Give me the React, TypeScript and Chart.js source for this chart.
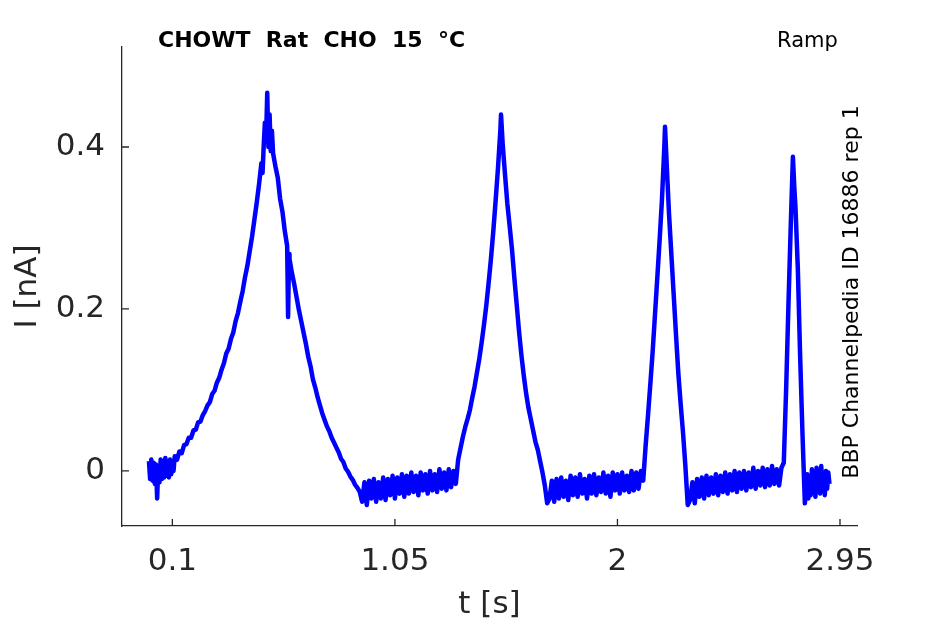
import React, { useEffect, useRef } from "react";
import { Chart, registerables } from "chart.js";

Chart.register(...registerables);

const baseline0: [number, number][] = [
  [0.0, 0.012], [0.005, -0.01], [0.01, 0.014], [0.015, -0.012], [0.02, 0.01],
  [0.025, -0.016], [0.03, 0.008], [0.035, -0.034], [0.04, 0.006], [0.045, -0.014],
  [0.05, 0.014], [0.055, -0.01], [0.06, 0.012], [0.065, -0.008], [0.07, 0.016],
  [0.075, -0.006], [0.08, 0.012], [0.085, -0.008], [0.09, 0.014], [0.095, -0.004],
  [0.1, 0.012], [0.105, 0.0], [0.11, 0.018],
];

const peak1: [number, number][] = [
  [0.12, 0.014], [0.13, 0.024], [0.14, 0.022], [0.15, 0.032], [0.16, 0.033],
  [0.17, 0.041], [0.18, 0.041], [0.19, 0.05], [0.2, 0.051], [0.21, 0.06],
  [0.22, 0.061], [0.23, 0.069], [0.24, 0.074], [0.25, 0.081], [0.26, 0.085],
  [0.27, 0.095], [0.28, 0.099], [0.29, 0.109], [0.3, 0.115], [0.31, 0.125],
  [0.32, 0.133], [0.33, 0.145], [0.34, 0.151], [0.35, 0.163], [0.36, 0.171],
  [0.37, 0.185], [0.38, 0.195], [0.39, 0.209], [0.4, 0.222], [0.41, 0.239],
  [0.42, 0.253], [0.43, 0.271], [0.44, 0.289], [0.45, 0.31], [0.46, 0.331],
  [0.47, 0.354], [0.48, 0.38], [0.485, 0.368], [0.49, 0.402], [0.495, 0.43],
  [0.5, 0.41], [0.505, 0.467], [0.51, 0.4], [0.515, 0.44], [0.52, 0.395],
  [0.525, 0.42], [0.53, 0.392], [0.54, 0.376], [0.55, 0.362], [0.56, 0.336],
  [0.57, 0.32], [0.58, 0.296], [0.59, 0.278], [0.594, 0.19], [0.598, 0.268],
  [0.6, 0.262], [0.61, 0.245], [0.62, 0.231], [0.63, 0.215], [0.64, 0.199],
  [0.65, 0.185], [0.66, 0.171], [0.67, 0.157], [0.68, 0.141], [0.69, 0.129],
  [0.7, 0.113], [0.71, 0.103], [0.72, 0.091], [0.73, 0.081], [0.74, 0.071],
  [0.75, 0.063], [0.76, 0.055], [0.77, 0.049], [0.78, 0.041], [0.79, 0.035],
  [0.8, 0.029], [0.81, 0.023], [0.82, 0.015], [0.83, 0.011], [0.84, 0.003],
  [0.85, -0.001], [0.86, -0.007], [0.87, -0.011], [0.88, -0.017], [0.89, -0.021],
  [0.9, -0.026],
];

const baseline1: [number, number][] = [
  [0.91, -0.038], [0.92, -0.014], [0.93, -0.042], [0.94, -0.012], [0.95, -0.034],
  [0.96, -0.01], [0.97, -0.038], [0.98, -0.014], [0.99, -0.034], [1.0, -0.008],
  [1.01, -0.036], [1.02, -0.01], [1.03, -0.03], [1.04, -0.006], [1.05, -0.034],
  [1.06, -0.008], [1.07, -0.028], [1.08, -0.004], [1.09, -0.032], [1.1, -0.006],
  [1.11, -0.028], [1.12, -0.002], [1.13, -0.026], [1.14, -0.006], [1.15, -0.03],
  [1.16, -0.002], [1.17, -0.024], [1.18, -0.004], [1.19, -0.028], [1.2, 0.0],
  [1.21, -0.024], [1.22, -0.004], [1.23, -0.026], [1.24, 0.002], [1.25, -0.022],
  [1.26, -0.002], [1.27, -0.024], [1.28, 0.002], [1.29, -0.02], [1.3, 0.0],
  [1.31, -0.016],
];

const peak2: [number, number][] = [
  [1.32, 0.014], [1.33, 0.028], [1.34, 0.042], [1.35, 0.054], [1.36, 0.064],
  [1.37, 0.075], [1.38, 0.09], [1.39, 0.104], [1.4, 0.121], [1.41, 0.138],
  [1.42, 0.158], [1.43, 0.18], [1.44, 0.204], [1.45, 0.232], [1.46, 0.262],
  [1.47, 0.296], [1.48, 0.334], [1.49, 0.374], [1.5, 0.42], [1.503, 0.44],
  [1.51, 0.404], [1.52, 0.366], [1.53, 0.33], [1.54, 0.302], [1.55, 0.273],
  [1.56, 0.238], [1.57, 0.205], [1.58, 0.172], [1.59, 0.143], [1.6, 0.118],
  [1.61, 0.096], [1.62, 0.078], [1.63, 0.064], [1.64, 0.05], [1.65, 0.036],
  [1.66, 0.026], [1.67, 0.012], [1.68, -0.002], [1.69, -0.018], [1.7, -0.04],
];

const baseline2: [number, number][] = [
  [1.71, -0.034], [1.72, -0.012], [1.73, -0.038], [1.74, -0.01], [1.75, -0.034],
  [1.76, -0.008], [1.77, -0.032], [1.78, -0.012], [1.79, -0.036], [1.8, -0.006],
  [1.81, -0.03], [1.82, -0.008], [1.83, -0.032], [1.84, -0.004], [1.85, -0.028],
  [1.86, -0.01], [1.87, -0.034], [1.88, -0.006], [1.89, -0.028], [1.9, -0.004],
  [1.91, -0.03], [1.92, -0.008], [1.93, -0.026], [1.94, -0.002], [1.95, -0.028],
  [1.96, -0.006], [1.97, -0.032], [1.98, -0.002], [1.99, -0.024], [2.0, -0.004],
  [2.01, -0.028], [2.02, -0.002], [2.03, -0.024], [2.04, -0.006], [2.05, -0.026],
  [2.06, 0.0], [2.07, -0.024], [2.08, -0.002], [2.09, -0.022], [2.1, 0.0],
];

const peak3: [number, number][] = [
  [2.11, -0.012], [2.12, 0.03], [2.13, 0.067], [2.14, 0.106], [2.15, 0.146],
  [2.16, 0.192], [2.17, 0.238], [2.18, 0.285], [2.19, 0.335], [2.2, 0.4],
  [2.203, 0.425], [2.21, 0.38], [2.22, 0.318], [2.23, 0.268], [2.24, 0.218],
  [2.25, 0.168], [2.26, 0.12], [2.27, 0.082], [2.28, 0.047], [2.29, 0.006],
  [2.3, -0.042],
];

const baseline3: [number, number][] = [
  [2.31, -0.036], [2.32, -0.014], [2.33, -0.04], [2.34, -0.01], [2.35, -0.032],
  [2.36, -0.008], [2.37, -0.034], [2.38, -0.006], [2.39, -0.03], [2.4, -0.008],
  [2.41, -0.028], [2.42, -0.004], [2.43, -0.03], [2.44, -0.006], [2.45, -0.026],
  [2.46, -0.002], [2.47, -0.028], [2.48, -0.004], [2.49, -0.024], [2.5, 0.0],
  [2.51, -0.026], [2.52, -0.002], [2.53, -0.022], [2.54, 0.0], [2.55, -0.024],
  [2.56, -0.002], [2.57, -0.02], [2.58, 0.004], [2.59, -0.022], [2.6, 0.0],
  [2.61, -0.018], [2.62, 0.004], [2.63, -0.02], [2.64, 0.002], [2.65, -0.018],
  [2.66, 0.006], [2.67, -0.016], [2.68, 0.002], [2.69, -0.018], [2.7, 0.004],
];

const peak4: [number, number][] = [
  [2.71, 0.01], [2.72, 0.1], [2.73, 0.206], [2.74, 0.305], [2.749, 0.388],
  [2.755, 0.35], [2.76, 0.325], [2.77, 0.25], [2.78, 0.14], [2.79, 0.045],
  [2.8, -0.04],
];

const baseline4: [number, number][] = [
  [2.805, -0.024], [2.81, -0.004], [2.815, -0.034], [2.82, -0.008], [2.825, -0.03],
  [2.83, 0.002], [2.835, -0.026], [2.84, -0.004], [2.845, -0.032], [2.85, 0.004],
  [2.855, -0.022], [2.86, -0.002], [2.865, -0.028], [2.87, 0.006], [2.875, -0.02],
  [2.88, -0.004], [2.885, -0.03], [2.89, 0.0], [2.895, -0.022], [2.9, -0.002],
  [2.905, -0.016],
];

const xTicks = [0.1, 1.05, 2, 2.95];
const xTickLabels = ["0.1", "1.05", "2", "2.95"];
const yTicks = [0, 0.2, 0.4];
const yTickLabels = ["0", "0.2", "0.4"];

const X_MIN = -0.115;
const X_MAX = 3.0226;
const Y_MIN = -0.068;
const Y_MAX = 0.5235;

const AXIS_COLOR = "#262626";
const FONT = "'DejaVu Sans', sans-serif";

const trace = [
  ...baseline0, ...peak1, ...baseline1, ...peak2, ...baseline2,
  ...peak3, ...baseline3, ...peak4, ...baseline4,
];

// inward tick marks + the annotation texts, matlab style
const decorations = {
  id: "decorations",
  afterDraw(chart: Chart) {
    const { ctx, chartArea } = chart;
    const xs = chart.scales.x;
    const ys = chart.scales.y;
    ctx.save();
    ctx.strokeStyle = AXIS_COLOR;
    ctx.lineWidth = 1.3;
    ctx.beginPath();
    xTicks.forEach((v) => {
      const px = xs.getPixelForValue(v);
      ctx.moveTo(px, chartArea.bottom);
      ctx.lineTo(px, chartArea.bottom - 7);
    });
    yTicks.forEach((v) => {
      const py = ys.getPixelForValue(v);
      ctx.moveTo(chartArea.left, py);
      ctx.lineTo(chartArea.left + 7, py);
    });
    ctx.stroke();

    ctx.fillStyle = "#000";
    ctx.textBaseline = "alphabetic";
    ctx.textAlign = "left";
    ctx.font = `bold 22px ${FONT}`;
    ctx.fillText("CHOWT  Rat  CHO  15  \u00b0C", 158, 47);
    ctx.font = `21px ${FONT}`;
    ctx.fillText("Ramp", 777, 47);

    ctx.translate(858, 292);
    ctx.rotate(-Math.PI / 2);
    ctx.textAlign = "center";
    ctx.font = `22px ${FONT}`;
    ctx.fillText("BBP Channelpedia ID 16886 rep 1", 0, 0);
    ctx.restore();
  },
};

const App: React.FC = () => {
  const canvasRef = useRef<HTMLCanvasElement>(null);
  const chartRef = useRef<Chart | null>(null);

  useEffect(() => {
    if (!canvasRef.current) return;
    if (chartRef.current) chartRef.current.destroy();

    const tickFont = { family: FONT, size: 31 };

    chartRef.current = new Chart(canvasRef.current, {
      type: "line",
      data: {
        datasets: [
          {
            data: trace.map(([t, i]) => ({ x: t, y: i })),
            borderColor: "#0000ff",
            borderWidth: 4.5,
            borderJoinStyle: "round",
            pointRadius: 0,
            tension: 0,
            fill: false,
          },
        ],
      },
      options: {
        animation: false,
        responsive: true,
        maintainAspectRatio: false,
        layout: { padding: { left: 0, right: 88, top: 47, bottom: 0 } },
        plugins: {
          legend: { display: false },
          tooltip: { enabled: false },
        },
        scales: {
          x: {
            type: "linear",
            min: X_MIN,
            max: X_MAX,
            grid: { display: false, drawTicks: false },
            border: { display: true, color: AXIS_COLOR, width: 1.3 },
            afterBuildTicks: (scale: any) => {
              scale.ticks = xTicks.map((v) => ({ value: v }));
            },
            afterFit: (scale: any) => {
              scale.height = 98;
            },
            ticks: {
              font: tickFont,
              color: AXIS_COLOR,
              padding: 17,
              autoSkip: false,
              maxRotation: 0,
              callback: (_v: any, i: number) => xTickLabels[i],
            },
            title: {
              display: true,
              text: "t [s]",
              font: tickFont,
              color: AXIS_COLOR,
              padding: { top: 0, bottom: 0 },
            },
          },
          y: {
            type: "linear",
            min: Y_MIN,
            max: Y_MAX,
            grid: { display: false, drawTicks: false },
            border: { display: true, color: AXIS_COLOR, width: 1.3 },
            afterBuildTicks: (scale: any) => {
              scale.ticks = yTicks.map((v) => ({ value: v }));
            },
            afterFit: (scale: any) => {
              scale.width = 122;
            },
            ticks: {
              font: tickFont,
              color: AXIS_COLOR,
              padding: 17,
              callback: (_v: any, i: number) => yTickLabels[i],
            },
            title: {
              display: true,
              text: "I [nA]",
              font: tickFont,
              color: AXIS_COLOR,
              padding: { top: 9, bottom: 0 },
            },
          },
        },
      },
      plugins: [decorations],
    });

    return () => {
      if (chartRef.current) {
        chartRef.current.destroy();
        chartRef.current = null;
      }
    };
  }, []);

  return (
    <div
      style={{
        position: "absolute",
        left: 0,
        top: 0,
        width: "945px",
        height: "624px",
        background: "#fff",
      }}
    >
      <canvas ref={canvasRef}></canvas>
    </div>
  );
};

export default App;
